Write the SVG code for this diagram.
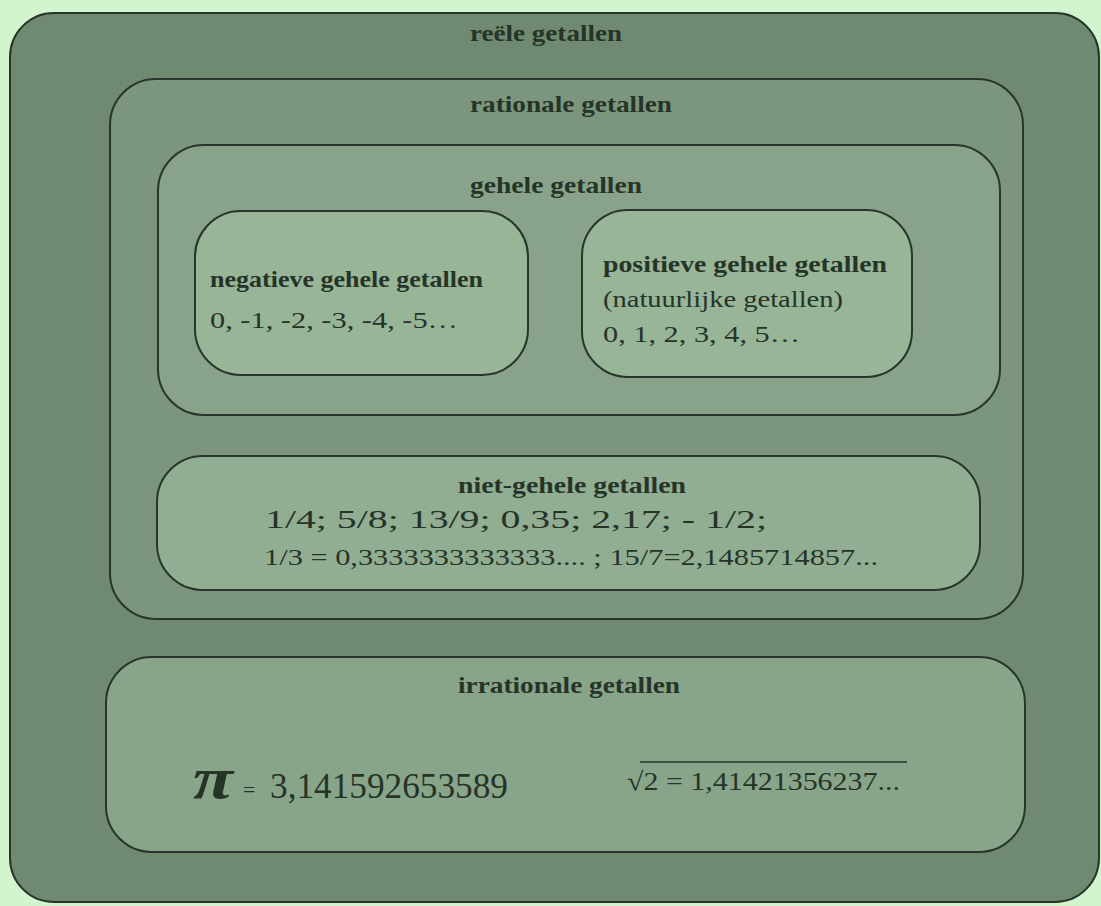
<svg xmlns="http://www.w3.org/2000/svg" width="1101" height="906" viewBox="0 0 1101 906">
<style>
.box{stroke:#27352a;stroke-width:2}
text{font-family:"Liberation Serif","DejaVu Serif",serif;fill:#263428}
.b{font-weight:bold}
.t{font-size:24px;font-weight:bold}
.s{font-size:24px}
</style>
<rect x="0" y="0" width="1101" height="906" fill="#d3f5cd"/>
<g id="reeel">
<rect class="box" x="10" y="13" width="1089" height="889" rx="44" fill="#6f8a71"/>
<text class="t" x="470" y="41" textLength="152" lengthAdjust="spacingAndGlyphs">reële getallen</text>
</g>
<g id="rationaal">
<rect class="box" x="110" y="79" width="913" height="540" rx="46" fill="#7b967c"/>
<text class="t" x="470" y="112" textLength="202" lengthAdjust="spacingAndGlyphs">rationale getallen</text>
</g>
<g id="geheel">
<rect class="box" x="158" y="145" width="842" height="270" rx="46" fill="#88a389"/>
<text class="t" x="470" y="193" textLength="172" lengthAdjust="spacingAndGlyphs">gehele getallen</text>
</g>
<g id="negatief">
<rect class="box" x="195" y="211" width="333" height="164" rx="46" fill="#98b598"/>
<text class="s b" x="210" y="287" textLength="273" lengthAdjust="spacingAndGlyphs">negatieve gehele getallen</text>
<text class="s" x="210" y="328" textLength="248" lengthAdjust="spacingAndGlyphs">0, -1, -2, -3, -4, -5…</text>
</g>
<g id="positief">
<rect class="box" x="582" y="210" width="330" height="167" rx="46" fill="#98b598"/>
<text class="s b" x="603" y="272" textLength="284" lengthAdjust="spacingAndGlyphs">positieve gehele getallen</text>
<text class="s" x="603" y="307" textLength="240" lengthAdjust="spacingAndGlyphs">(natuurlijke getallen)</text>
<text class="s" x="603" y="342" textLength="197" lengthAdjust="spacingAndGlyphs">0, 1, 2, 3, 4, 5…</text>
</g>
<g id="nietgeheel">
<rect class="box" x="157" y="456" width="823" height="134" rx="46" fill="#92ae92"/>
<text class="s b" x="458" y="493" textLength="228" lengthAdjust="spacingAndGlyphs">niet-gehele getallen</text>
<text x="265" y="528" font-size="26" textLength="502" lengthAdjust="spacingAndGlyphs">1/4; 5/8; 13/9; 0,35; 2,17; - 1/2;</text>
<text class="s" x="264" y="565" textLength="614" lengthAdjust="spacingAndGlyphs">1/3 = 0,3333333333333.... ; 15/7=2,1485714857...</text>
</g>
<g id="irrationaal">
<rect class="box" x="106" y="657" width="919" height="195" rx="46" fill="#88a489"/>
<text class="t" x="458" y="693" textLength="222" lengthAdjust="spacingAndGlyphs">irrationale getallen</text>
<text x="193" y="798" font-size="60" font-weight="bold" font-style="italic" textLength="40" lengthAdjust="spacingAndGlyphs">π</text>
<text x="243" y="797" font-size="22">=</text>
<text x="270" y="798" font-size="36" textLength="238" lengthAdjust="spacingAndGlyphs">3,141592653589</text>
<text x="627" y="790" font-size="26" textLength="273" lengthAdjust="spacingAndGlyphs">√2 = 1,41421356237...</text>
<line x1="640" y1="762" x2="907" y2="762" stroke="#263428" stroke-width="1.5"/>
</g>
</svg>
